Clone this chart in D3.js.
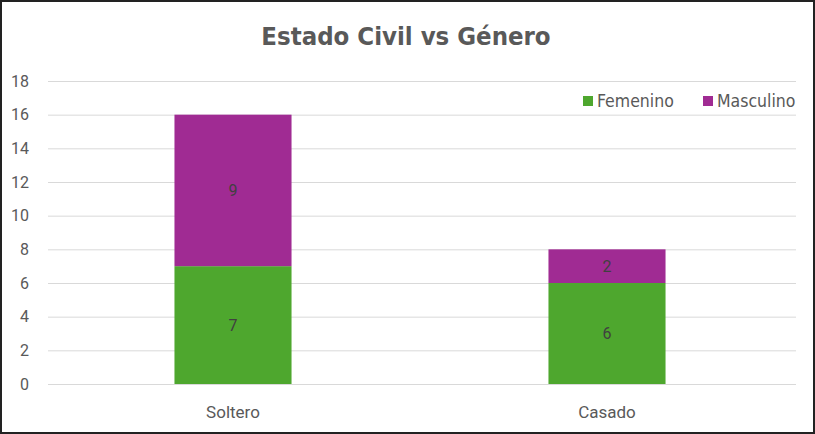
<!DOCTYPE html>
<html>
<head>
<meta charset="utf-8">
<script src="https://cdn.jsdelivr.net/npm/d3@7"></script>
<style>
  html, body { margin: 0; padding: 0; background: #fff; }
  svg { display: block; }
</style>
</head>
<body>
<script>
const categories = ["Soltero", "Casado"];
const seriesNames = ["Femenino", "Masculino"];
const femenino = [7, 6];
const masculino = [9, 2];
const yTicks = [0, 2, 4, 6, 8, 10, 12, 14, 16, 18];

const width = 815;
const height = 434;
const colors = { Femenino: "#4ea72e", Masculino: "#a02b93" };
const font = "'DejaVu Sans Condensed', 'Roboto', sans-serif";

const rows = categories.map((c, i) => ({ category: c, Femenino: femenino[i], Masculino: masculino[i] }));
const stacked = d3.stack().keys(seriesNames)(rows);

const svg = d3.select("body").append("svg")
  .attr("width", width)
  .attr("height", height);

svg.append("rect")
  .attr("x", 1).attr("y", 1)
  .attr("width", width - 2).attr("height", height - 2)
  .attr("fill", "#fff")
  .attr("stroke", "#222")
  .attr("stroke-width", 2);

const x = d3.scaleBand().domain(categories).range([46, 794]).padding(0);
const y = d3.scaleLinear().domain([0, 18]).range([384, 81]);
const barW = x.bandwidth() * 0.313;

// grid
svg.append("g")
  .selectAll("line")
  .data(yTicks)
  .join("line")
  .attr("x1", 48).attr("x2", 796)
  .attr("y1", d => y(d) + 0.5).attr("y2", d => y(d) + 0.5)
  .attr("stroke", "#d9d9d9")
  .attr("stroke-width", 1);

// y axis labels
svg.append("g")
  .selectAll("text")
  .data(yTicks)
  .join("text")
  .attr("x", 29)
  .attr("y", d => y(d))
  .attr("dy", "0.35em")
  .attr("text-anchor", "end")
  .attr("font-family", "'Roboto', sans-serif")
  .attr("font-size", 16)
  .attr("fill", "#595959")
  .text(d => d);

// bars
const layer = svg.append("g")
  .selectAll("g")
  .data(stacked)
  .join("g")
  .attr("fill", d => colors[d.key]);

layer.selectAll("rect")
  .data(d => d)
  .join("rect")
  .attr("x", d => x(d.data.category) + (x.bandwidth() - barW) / 2)
  .attr("width", barW)
  .attr("y", d => y(d[1]))
  .attr("height", d => y(d[0]) - y(d[1]));

layer.selectAll("text")
  .data(d => d)
  .join("text")
  .attr("x", d => x(d.data.category) + x.bandwidth() / 2)
  .attr("y", d => (y(d[0]) + y(d[1])) / 2)
  .attr("dy", "0.35em")
  .attr("text-anchor", "middle")
  .attr("font-family", "'Roboto', sans-serif")
  .attr("font-size", 16)
  .attr("fill", "#404040")
  .text(d => d[1] - d[0]);

// category labels
svg.append("g")
  .selectAll("text")
  .data(categories)
  .join("text")
  .attr("x", d => x(d) + x.bandwidth() / 2)
  .attr("y", 412)
  .attr("dy", "0.35em")
  .attr("text-anchor", "middle")
  .attr("font-family", "'Roboto', sans-serif")
  .attr("font-size", 17)
  .attr("fill", "#595959")
  .text(d => d);

// title
svg.append("text")
  .attr("x", 406)
  .attr("y", 45)
  .attr("text-anchor", "middle")
  .attr("font-family", font)
  .attr("font-weight", "bold")
  .attr("font-size", 25.5)
  .attr("fill", "#595959")
  .text("Estado Civil vs Género");

// legend
const legendX = [583, 703];
const legend = svg.append("g")
  .selectAll("g")
  .data(seriesNames)
  .join("g")
  .attr("transform", (d, i) => `translate(${legendX[i]},101)`);

legend.append("rect")
  .attr("x", 0).attr("y", -5)
  .attr("width", 10).attr("height", 10)
  .attr("fill", d => colors[d]);

legend.append("text")
  .attr("x", 14)
  .attr("dy", "0.35em")
  .attr("font-family", font)
  .attr("font-size", 17.5)
  .attr("fill", "#595959")
  .text(d => d);
</script>
</body>
</html>
